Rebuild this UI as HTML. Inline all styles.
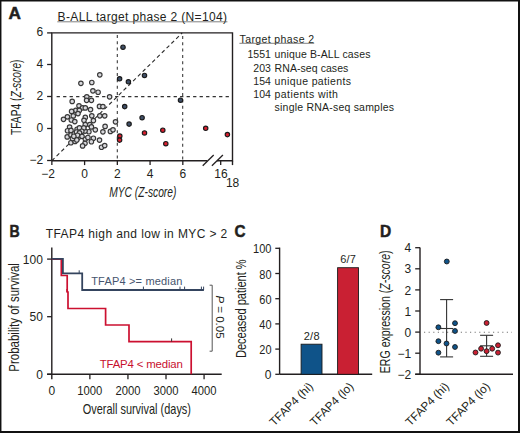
<!DOCTYPE html>
<html><head><meta charset="utf-8"><style>
html,body{margin:0;padding:0;background:#fff;}
body{width:520px;height:433px;overflow:hidden;}
svg{display:block;font-family:"Liberation Sans", sans-serif;}
</style></head><body>
<svg width="520" height="433" viewBox="0 0 520 433">
<rect x="0" y="0" width="520" height="433" fill="#fff"/>
<text x="8.6" y="18.8" font-size="16" text-anchor="start" fill="#231f20" font-weight="bold" font-style="normal" textLength="12.4" lengthAdjust="spacingAndGlyphs" stroke="#231f20" stroke-width="0.5">A</text>
<text x="57.6" y="20.9" font-size="12" text-anchor="start" fill="#231f20" font-weight="normal" font-style="normal" textLength="169.4" lengthAdjust="spacing" >B-ALL target phase 2 (N=104)</text>
<line x1="57.3" y1="21.8" x2="227.4" y2="21.8" stroke="#555" stroke-width="0.75" />
<line x1="117.3" y1="34.9" x2="117.3" y2="159.8" stroke="#333" stroke-width="1.05" stroke-dasharray="3,3.35"/>
<line x1="182.7" y1="35.9" x2="182.7" y2="159.8" stroke="#333" stroke-width="1.05" stroke-dasharray="3,3.35"/>
<line x1="56.599999999999994" y1="96.6" x2="230.5" y2="96.6" stroke="#333" stroke-width="1.05" stroke-dasharray="3.3,3.2"/>
<line x1="51.8" y1="160.8" x2="182.2" y2="32.9" stroke="#2a2a2a" stroke-width="1.1" stroke-dasharray="3.8,2.9"/>
<path d="M51.8,160.8 L51.8,32.9 L232.5,32.9 L232.5,160.8 L217,160.8 M207.3,160.8 L51.8,160.8" fill="none" stroke="#231f20" stroke-width="1.4"/>
<line x1="47.1" y1="32.9" x2="51.8" y2="32.9" stroke="#231f20" stroke-width="1.3" />
<text x="43.2" y="36.1" font-size="12" text-anchor="end" fill="#231f20" font-weight="normal" font-style="normal" >6</text>
<line x1="47.1" y1="64.5" x2="51.8" y2="64.5" stroke="#231f20" stroke-width="1.3" />
<text x="43.2" y="68.1" font-size="12" text-anchor="end" fill="#231f20" font-weight="normal" font-style="normal" >4</text>
<line x1="47.1" y1="96.5" x2="51.8" y2="96.5" stroke="#231f20" stroke-width="1.3" />
<text x="43.2" y="100.1" font-size="12" text-anchor="end" fill="#231f20" font-weight="normal" font-style="normal" >2</text>
<line x1="47.1" y1="128.5" x2="51.8" y2="128.5" stroke="#231f20" stroke-width="1.3" />
<text x="43.2" y="132.1" font-size="12" text-anchor="end" fill="#231f20" font-weight="normal" font-style="normal" >0</text>
<line x1="47.1" y1="160.5" x2="51.8" y2="160.5" stroke="#231f20" stroke-width="1.3" />
<text x="43.2" y="164.1" font-size="12" text-anchor="end" fill="#231f20" font-weight="normal" font-style="normal" >−2</text>
<line x1="51.85999999999999" y1="160.8" x2="51.85999999999999" y2="165.10000000000002" stroke="#231f20" stroke-width="1.3" />
<text x="54.959999999999994" y="177.9" font-size="12" text-anchor="end" fill="#231f20" font-weight="normal" font-style="normal" >−2</text>
<line x1="84.6" y1="160.8" x2="84.6" y2="165.10000000000002" stroke="#231f20" stroke-width="1.3" />
<text x="84.6" y="177.9" font-size="12" text-anchor="middle" fill="#231f20" font-weight="normal" font-style="normal" >0</text>
<line x1="117.34" y1="160.8" x2="117.34" y2="165.10000000000002" stroke="#231f20" stroke-width="1.3" />
<text x="117.34" y="177.9" font-size="12" text-anchor="middle" fill="#231f20" font-weight="normal" font-style="normal" >2</text>
<line x1="150.07999999999998" y1="160.8" x2="150.07999999999998" y2="165.10000000000002" stroke="#231f20" stroke-width="1.3" />
<text x="150.07999999999998" y="177.9" font-size="12" text-anchor="middle" fill="#231f20" font-weight="normal" font-style="normal" >4</text>
<line x1="182.82" y1="160.8" x2="182.82" y2="165.10000000000002" stroke="#231f20" stroke-width="1.3" />
<text x="182.82" y="177.9" font-size="12" text-anchor="middle" fill="#231f20" font-weight="normal" font-style="normal" >6</text>
<line x1="220.7" y1="160.8" x2="220.7" y2="165.10000000000002" stroke="#231f20" stroke-width="1.3" />
<line x1="232.5" y1="160.8" x2="232.5" y2="165.10000000000002" stroke="#231f20" stroke-width="1.4" />
<text x="220.9" y="177.9" font-size="12" text-anchor="middle" fill="#231f20" font-weight="normal" font-style="normal" >16</text>
<text x="232.6" y="187.4" font-size="12" text-anchor="middle" fill="#231f20" font-weight="normal" font-style="normal" >18</text>
<line x1="202.7" y1="165.8" x2="213.7" y2="155" stroke="#231f20" stroke-width="1.3" />
<line x1="211.9" y1="165.8" x2="222.9" y2="155" stroke="#231f20" stroke-width="1.3" />
<text transform="translate(21,97.3) rotate(-90)" font-size="14.6" text-anchor="middle" fill="#231f20" textLength="75.6" lengthAdjust="spacingAndGlyphs">TFAP4 (<tspan font-style="italic">Z-score</tspan>)</text>
<text x="109.2" y="196.9" font-size="14.3" text-anchor="start" fill="#231f20" font-weight="normal" font-style="italic" textLength="67.2" lengthAdjust="spacingAndGlyphs" >MYC (Z-score)</text>
<circle cx="99.8" cy="74.8" r="2.25" fill="#d8d8dc" stroke="#383838" stroke-width="1.15"/>
<circle cx="80.9" cy="83.3" r="2.25" fill="#d8d8dc" stroke="#383838" stroke-width="1.15"/>
<circle cx="91.8" cy="82.5" r="2.25" fill="#d8d8dc" stroke="#383838" stroke-width="1.15"/>
<circle cx="92.9" cy="90.8" r="2.25" fill="#d8d8dc" stroke="#383838" stroke-width="1.15"/>
<circle cx="98.1" cy="92.2" r="2.25" fill="#d8d8dc" stroke="#383838" stroke-width="1.15"/>
<circle cx="86.8" cy="96.8" r="2.25" fill="#d8d8dc" stroke="#383838" stroke-width="1.15"/>
<circle cx="86.6" cy="100.3" r="2.25" fill="#d8d8dc" stroke="#383838" stroke-width="1.15"/>
<circle cx="91.4" cy="100.3" r="2.25" fill="#d8d8dc" stroke="#383838" stroke-width="1.15"/>
<circle cx="72.2" cy="101.4" r="2.25" fill="#d8d8dc" stroke="#383838" stroke-width="1.15"/>
<circle cx="109.6" cy="96.8" r="2.25" fill="#d8d8dc" stroke="#383838" stroke-width="1.15"/>
<circle cx="79" cy="105.8" r="2.25" fill="#d8d8dc" stroke="#383838" stroke-width="1.15"/>
<circle cx="82.5" cy="107.8" r="2.25" fill="#d8d8dc" stroke="#383838" stroke-width="1.15"/>
<circle cx="85.3" cy="107.9" r="2.25" fill="#d8d8dc" stroke="#383838" stroke-width="1.15"/>
<circle cx="90.5" cy="109.6" r="2.25" fill="#d8d8dc" stroke="#383838" stroke-width="1.15"/>
<circle cx="99.5" cy="106.4" r="2.25" fill="#d8d8dc" stroke="#383838" stroke-width="1.15"/>
<circle cx="102.9" cy="106.6" r="2.25" fill="#d8d8dc" stroke="#383838" stroke-width="1.15"/>
<circle cx="75.8" cy="110.3" r="2.25" fill="#d8d8dc" stroke="#383838" stroke-width="1.15"/>
<circle cx="79.3" cy="110.4" r="2.25" fill="#d8d8dc" stroke="#383838" stroke-width="1.15"/>
<circle cx="71.6" cy="111.4" r="2.25" fill="#d8d8dc" stroke="#383838" stroke-width="1.15"/>
<circle cx="78" cy="113.6" r="2.25" fill="#d8d8dc" stroke="#383838" stroke-width="1.15"/>
<circle cx="73.3" cy="115.9" r="2.25" fill="#d8d8dc" stroke="#383838" stroke-width="1.15"/>
<circle cx="67.4" cy="116.8" r="2.25" fill="#d8d8dc" stroke="#383838" stroke-width="1.15"/>
<circle cx="63.5" cy="119.3" r="2.25" fill="#d8d8dc" stroke="#383838" stroke-width="1.15"/>
<circle cx="71.3" cy="120" r="2.25" fill="#d8d8dc" stroke="#383838" stroke-width="1.15"/>
<circle cx="74.8" cy="121.6" r="2.25" fill="#d8d8dc" stroke="#383838" stroke-width="1.15"/>
<circle cx="85.3" cy="117.4" r="2.25" fill="#d8d8dc" stroke="#383838" stroke-width="1.15"/>
<circle cx="84" cy="120.3" r="2.25" fill="#d8d8dc" stroke="#383838" stroke-width="1.15"/>
<circle cx="91.8" cy="115.8" r="2.25" fill="#d8d8dc" stroke="#383838" stroke-width="1.15"/>
<circle cx="99.8" cy="115.8" r="2.25" fill="#d8d8dc" stroke="#383838" stroke-width="1.15"/>
<circle cx="104.7" cy="115.8" r="2.25" fill="#d8d8dc" stroke="#383838" stroke-width="1.15"/>
<circle cx="93.4" cy="120.6" r="2.25" fill="#d8d8dc" stroke="#383838" stroke-width="1.15"/>
<circle cx="115.5" cy="121.8" r="2.25" fill="#d8d8dc" stroke="#383838" stroke-width="1.15"/>
<circle cx="85.3" cy="124.6" r="2.25" fill="#d8d8dc" stroke="#383838" stroke-width="1.15"/>
<circle cx="89.8" cy="124.6" r="2.25" fill="#d8d8dc" stroke="#383838" stroke-width="1.15"/>
<circle cx="91.4" cy="126.9" r="2.25" fill="#d8d8dc" stroke="#383838" stroke-width="1.15"/>
<circle cx="95.3" cy="129.8" r="2.25" fill="#d8d8dc" stroke="#383838" stroke-width="1.15"/>
<circle cx="88.9" cy="131.7" r="2.25" fill="#d8d8dc" stroke="#383838" stroke-width="1.15"/>
<circle cx="85" cy="131.1" r="2.25" fill="#d8d8dc" stroke="#383838" stroke-width="1.15"/>
<circle cx="105.1" cy="126.4" r="2.25" fill="#d8d8dc" stroke="#383838" stroke-width="1.15"/>
<circle cx="102.9" cy="131.8" r="2.25" fill="#d8d8dc" stroke="#383838" stroke-width="1.15"/>
<circle cx="110.4" cy="131.4" r="2.25" fill="#d8d8dc" stroke="#383838" stroke-width="1.15"/>
<circle cx="113" cy="129.8" r="2.25" fill="#d8d8dc" stroke="#383838" stroke-width="1.15"/>
<circle cx="69.6" cy="127.1" r="2.25" fill="#d8d8dc" stroke="#383838" stroke-width="1.15"/>
<circle cx="67.5" cy="130.7" r="2.25" fill="#d8d8dc" stroke="#383838" stroke-width="1.15"/>
<circle cx="71" cy="130.4" r="2.25" fill="#d8d8dc" stroke="#383838" stroke-width="1.15"/>
<circle cx="77.1" cy="129.2" r="2.25" fill="#d8d8dc" stroke="#383838" stroke-width="1.15"/>
<circle cx="79.4" cy="127.9" r="2.25" fill="#d8d8dc" stroke="#383838" stroke-width="1.15"/>
<circle cx="83.8" cy="127.9" r="2.25" fill="#d8d8dc" stroke="#383838" stroke-width="1.15"/>
<circle cx="67.2" cy="136.9" r="2.25" fill="#d8d8dc" stroke="#383838" stroke-width="1.15"/>
<circle cx="71" cy="134.9" r="2.25" fill="#d8d8dc" stroke="#383838" stroke-width="1.15"/>
<circle cx="74.3" cy="133.7" r="2.25" fill="#d8d8dc" stroke="#383838" stroke-width="1.15"/>
<circle cx="78.1" cy="137.8" r="2.25" fill="#d8d8dc" stroke="#383838" stroke-width="1.15"/>
<circle cx="80.6" cy="134.8" r="2.25" fill="#d8d8dc" stroke="#383838" stroke-width="1.15"/>
<circle cx="85.3" cy="139.1" r="2.25" fill="#d8d8dc" stroke="#383838" stroke-width="1.15"/>
<circle cx="87.9" cy="137.5" r="2.25" fill="#d8d8dc" stroke="#383838" stroke-width="1.15"/>
<circle cx="93.4" cy="138.2" r="2.25" fill="#d8d8dc" stroke="#383838" stroke-width="1.15"/>
<circle cx="91.4" cy="141.7" r="2.25" fill="#d8d8dc" stroke="#383838" stroke-width="1.15"/>
<circle cx="85" cy="143.3" r="2.25" fill="#d8d8dc" stroke="#383838" stroke-width="1.15"/>
<circle cx="70.9" cy="142.7" r="2.25" fill="#d8d8dc" stroke="#383838" stroke-width="1.15"/>
<circle cx="75.1" cy="141.4" r="2.25" fill="#d8d8dc" stroke="#383838" stroke-width="1.15"/>
<circle cx="82.6" cy="145.9" r="2.25" fill="#d8d8dc" stroke="#383838" stroke-width="1.15"/>
<circle cx="74.2" cy="138.2" r="2.25" fill="#d8d8dc" stroke="#383838" stroke-width="1.15"/>
<circle cx="99.5" cy="140.1" r="2.25" fill="#d8d8dc" stroke="#383838" stroke-width="1.15"/>
<circle cx="101.5" cy="147.2" r="2.25" fill="#d8d8dc" stroke="#383838" stroke-width="1.15"/>
<circle cx="104.7" cy="145.6" r="2.25" fill="#d8d8dc" stroke="#383838" stroke-width="1.15"/>
<circle cx="76.5" cy="132" r="2.25" fill="#d8d8dc" stroke="#383838" stroke-width="1.15"/>
<circle cx="81.8" cy="131.2" r="2.25" fill="#d8d8dc" stroke="#383838" stroke-width="1.15"/>
<circle cx="72.5" cy="138.5" r="2.25" fill="#d8d8dc" stroke="#383838" stroke-width="1.15"/>
<circle cx="79.5" cy="132.8" r="2.25" fill="#d8d8dc" stroke="#383838" stroke-width="1.15"/>
<circle cx="77.5" cy="135.2" r="2.25" fill="#d8d8dc" stroke="#383838" stroke-width="1.15"/>
<circle cx="82" cy="136.3" r="2.25" fill="#d8d8dc" stroke="#383838" stroke-width="1.15"/>
<circle cx="73.8" cy="136.2" r="2.25" fill="#d8d8dc" stroke="#383838" stroke-width="1.15"/>
<circle cx="76.8" cy="140" r="2.25" fill="#d8d8dc" stroke="#383838" stroke-width="1.15"/>
<circle cx="123" cy="47.2" r="2.2" fill="#3f4f67" stroke="#1a1a1a" stroke-width="1.15"/>
<circle cx="119.6" cy="78.8" r="2.2" fill="#3f4f67" stroke="#1a1a1a" stroke-width="1.15"/>
<circle cx="128.4" cy="81.8" r="2.2" fill="#3f4f67" stroke="#1a1a1a" stroke-width="1.15"/>
<circle cx="144.5" cy="75.4" r="2.2" fill="#3f4f67" stroke="#1a1a1a" stroke-width="1.15"/>
<circle cx="124.7" cy="106.6" r="2.2" fill="#3f4f67" stroke="#1a1a1a" stroke-width="1.15"/>
<circle cx="142.1" cy="117.7" r="2.2" fill="#3f4f67" stroke="#1a1a1a" stroke-width="1.15"/>
<circle cx="129.1" cy="124.1" r="2.2" fill="#3f4f67" stroke="#1a1a1a" stroke-width="1.15"/>
<circle cx="180.5" cy="100.2" r="2.2" fill="#3f4f67" stroke="#1a1a1a" stroke-width="1.15"/>
<circle cx="119.8" cy="136.1" r="2.2" fill="#d91e2e" stroke="#1a1a1a" stroke-width="1.15"/>
<circle cx="119.6" cy="140.1" r="2.2" fill="#d91e2e" stroke="#1a1a1a" stroke-width="1.15"/>
<circle cx="144.5" cy="132.9" r="2.2" fill="#d91e2e" stroke="#1a1a1a" stroke-width="1.15"/>
<circle cx="162.8" cy="130.2" r="2.2" fill="#d91e2e" stroke="#1a1a1a" stroke-width="1.15"/>
<circle cx="165.8" cy="143.7" r="2.2" fill="#d91e2e" stroke="#1a1a1a" stroke-width="1.15"/>
<circle cx="205.7" cy="128.3" r="2.2" fill="#d91e2e" stroke="#1a1a1a" stroke-width="1.15"/>
<circle cx="227.4" cy="134.6" r="2.2" fill="#d91e2e" stroke="#1a1a1a" stroke-width="1.15"/>
<text x="239.6" y="42.6" font-size="10.5" text-anchor="start" fill="#231f20" font-weight="normal" font-style="normal" textLength="74.4" lengthAdjust="spacing" >Target phase 2</text>
<line x1="239.4" y1="43.3" x2="314.2" y2="43.3" stroke="#555" stroke-width="0.75" />
<text x="270.9" y="58.2" font-size="10.5" text-anchor="end" fill="#231f20" font-weight="normal" font-style="normal" >1551</text>
<text x="274.6" y="58.2" font-size="10.5" text-anchor="start" fill="#231f20" font-weight="normal" font-style="normal" textLength="95.8" lengthAdjust="spacing" >unique B-ALL cases</text>
<text x="270.9" y="71.5" font-size="10.5" text-anchor="end" fill="#231f20" font-weight="normal" font-style="normal" >203</text>
<text x="274.6" y="71.5" font-size="10.5" text-anchor="start" fill="#231f20" font-weight="normal" font-style="normal" textLength="73.7" lengthAdjust="spacing" >RNA-seq cases</text>
<text x="270.9" y="84.7" font-size="10.5" text-anchor="end" fill="#231f20" font-weight="normal" font-style="normal" >154</text>
<text x="274.6" y="84.7" font-size="10.5" text-anchor="start" fill="#231f20" font-weight="normal" font-style="normal" textLength="76.4" lengthAdjust="spacing" >unique patients</text>
<text x="270.9" y="98.0" font-size="10.5" text-anchor="end" fill="#231f20" font-weight="normal" font-style="normal" >104</text>
<text x="274.6" y="98.0" font-size="10.5" text-anchor="start" fill="#231f20" font-weight="normal" font-style="normal" textLength="63.2" lengthAdjust="spacing" >patients with</text>
<text x="274.6" y="111.3" font-size="10.5" text-anchor="start" fill="#231f20" font-weight="normal" font-style="normal" textLength="119.4" lengthAdjust="spacing" >single RNA-seq samples</text>
<text x="9.6" y="237.3" font-size="16" text-anchor="start" fill="#231f20" font-weight="bold" font-style="normal" textLength="10.2" lengthAdjust="spacingAndGlyphs" stroke="#231f20" stroke-width="0.5">B</text>
<text x="45.8" y="237.6" font-size="12" text-anchor="start" fill="#231f20" font-weight="normal" font-style="normal" textLength="181.5" lengthAdjust="spacing" >TFAP4 high and low in MYC &gt; 2</text>
<line x1="51.8" y1="247.5" x2="51.8" y2="379.3" stroke="#231f20" stroke-width="1.4" />
<line x1="47.1" y1="374.3" x2="221.7" y2="374.3" stroke="#231f20" stroke-width="1.4" />
<line x1="47.1" y1="259.1" x2="51.8" y2="259.1" stroke="#231f20" stroke-width="1.3" />
<text x="42.9" y="263.8" font-size="12" text-anchor="end" fill="#231f20" font-weight="normal" font-style="normal" >100</text>
<line x1="47.1" y1="316.70000000000005" x2="51.8" y2="316.70000000000005" stroke="#231f20" stroke-width="1.3" />
<text x="42.9" y="321.40000000000003" font-size="12" text-anchor="end" fill="#231f20" font-weight="normal" font-style="normal" >50</text>
<line x1="47.1" y1="374.3" x2="51.8" y2="374.3" stroke="#231f20" stroke-width="1.3" />
<text x="42.9" y="379.0" font-size="12" text-anchor="end" fill="#231f20" font-weight="normal" font-style="normal" >0</text>
<line x1="89.87" y1="374.3" x2="89.87" y2="379.3" stroke="#231f20" stroke-width="1.3" />
<line x1="127.94" y1="374.3" x2="127.94" y2="379.3" stroke="#231f20" stroke-width="1.3" />
<line x1="166.01" y1="374.3" x2="166.01" y2="379.3" stroke="#231f20" stroke-width="1.3" />
<line x1="204.07999999999998" y1="374.3" x2="204.07999999999998" y2="379.3" stroke="#231f20" stroke-width="1.3" />
<text x="51.8" y="394.7" font-size="12" text-anchor="middle" fill="#231f20" font-weight="normal" font-style="normal" >0</text>
<text x="89.87" y="394.7" font-size="12" text-anchor="middle" fill="#231f20" font-weight="normal" font-style="normal" textLength="25" lengthAdjust="spacingAndGlyphs" >1000</text>
<text x="127.94" y="394.7" font-size="12" text-anchor="middle" fill="#231f20" font-weight="normal" font-style="normal" textLength="25" lengthAdjust="spacingAndGlyphs" >2000</text>
<text x="166.01" y="394.7" font-size="12" text-anchor="middle" fill="#231f20" font-weight="normal" font-style="normal" textLength="25" lengthAdjust="spacingAndGlyphs" >3000</text>
<text x="204.07999999999998" y="394.7" font-size="12" text-anchor="middle" fill="#231f20" font-weight="normal" font-style="normal" textLength="25" lengthAdjust="spacingAndGlyphs" >4000</text>
<text transform="translate(18.6,317.4) rotate(-90)" font-size="14.5" text-anchor="middle" fill="#231f20" textLength="108.6" lengthAdjust="spacingAndGlyphs">Probability of survival</text>
<text x="82.7" y="413.7" font-size="14.2" text-anchor="start" fill="#231f20" font-weight="normal" font-style="normal" textLength="108.3" lengthAdjust="spacingAndGlyphs" >Overall survival (days)</text>
<path d="M51.8,259.1 L61.3,259.1 L61.3,275.5 L67.2,275.5 L67.2,292 L68,292 L68,308.5 L105.6,308.5 L105.6,325 L129,325 L129,341.6 L191.2,341.6 L191.2,374.3" fill="none" stroke="#cc1030" stroke-width="1.7"/>
<line x1="171.6" y1="341.6" x2="171.6" y2="338.4" stroke="#333" stroke-width="1.0" />
<line x1="66.8" y1="292" x2="66.8" y2="289" stroke="#c8102e" stroke-width="1.0" />
<path d="M51.8,258.9 L62.9,258.9 L62.9,273.3 L82.2,273.3 L82.2,290 L203.9,290" fill="none" stroke="#34445e" stroke-width="1.8"/>
<line x1="79.2" y1="273.3" x2="79.2" y2="270.3" stroke="#34445e" stroke-width="1.0" />
<line x1="143.4" y1="290" x2="143.4" y2="286.6" stroke="#34445e" stroke-width="1.0" />
<line x1="180" y1="290" x2="180" y2="286.6" stroke="#34445e" stroke-width="1.0" />
<line x1="184.6" y1="290" x2="184.6" y2="286.6" stroke="#34445e" stroke-width="1.0" />
<line x1="201.4" y1="290" x2="201.4" y2="286.6" stroke="#34445e" stroke-width="1.0" />
<line x1="203.6" y1="290" x2="203.6" y2="286.6" stroke="#34445e" stroke-width="1.0" />
<text x="91.2" y="284.9" font-size="11" text-anchor="start" fill="#45546e" font-weight="normal" font-style="normal" textLength="91.2" lengthAdjust="spacing" >TFAP4 &gt;= median</text>
<text x="99.7" y="368.3" font-size="11.4" text-anchor="start" fill="#c8102e" font-weight="normal" font-style="normal" textLength="83.1" lengthAdjust="spacing" >TFAP4 &lt; median</text>
<path d="M209.6,285.2 L212.2,285.2 L212.2,351.2 L209.6,351.2" fill="none" stroke="#555" stroke-width="1"/>
<text transform="translate(215.8,317) rotate(90)" font-size="11.5" text-anchor="middle" fill="#231f20"><tspan font-style="italic">P</tspan> = 0.05</text>
<text x="234.6" y="237.1" font-size="16" text-anchor="start" fill="#231f20" font-weight="bold" font-style="normal" textLength="11" lengthAdjust="spacingAndGlyphs" stroke="#231f20" stroke-width="0.5">C</text>
<line x1="279.6" y1="247.6" x2="279.6" y2="374.3" stroke="#231f20" stroke-width="1.4" />
<line x1="279.6" y1="374.3" x2="372.2" y2="374.3" stroke="#231f20" stroke-width="1.4" />
<line x1="275.3" y1="374.3" x2="279.6" y2="374.3" stroke="#231f20" stroke-width="1.3" />
<text x="271.5" y="379.3" font-size="12" text-anchor="end" fill="#231f20" font-weight="normal" font-style="normal" >0</text>
<line x1="275.3" y1="349.1" x2="279.6" y2="349.1" stroke="#231f20" stroke-width="1.3" />
<text x="271.5" y="354.1" font-size="12" text-anchor="end" fill="#231f20" font-weight="normal" font-style="normal" textLength="12.2" lengthAdjust="spacingAndGlyphs" >20</text>
<line x1="275.3" y1="323.90000000000003" x2="279.6" y2="323.90000000000003" stroke="#231f20" stroke-width="1.3" />
<text x="271.5" y="328.90000000000003" font-size="12" text-anchor="end" fill="#231f20" font-weight="normal" font-style="normal" textLength="12.2" lengthAdjust="spacingAndGlyphs" >40</text>
<line x1="275.3" y1="298.70000000000005" x2="279.6" y2="298.70000000000005" stroke="#231f20" stroke-width="1.3" />
<text x="271.5" y="303.70000000000005" font-size="12" text-anchor="end" fill="#231f20" font-weight="normal" font-style="normal" textLength="12.2" lengthAdjust="spacingAndGlyphs" >60</text>
<line x1="275.3" y1="273.5" x2="279.6" y2="273.5" stroke="#231f20" stroke-width="1.3" />
<text x="271.5" y="278.5" font-size="12" text-anchor="end" fill="#231f20" font-weight="normal" font-style="normal" textLength="12.2" lengthAdjust="spacingAndGlyphs" >80</text>
<line x1="275.3" y1="248.3" x2="279.6" y2="248.3" stroke="#231f20" stroke-width="1.3" />
<text x="271.5" y="253.3" font-size="12" text-anchor="end" fill="#231f20" font-weight="normal" font-style="normal" textLength="18.4" lengthAdjust="spacingAndGlyphs" >100</text>
<rect x="301.1" y="344.2" width="20.9" height="30.1" fill="#0f5389" stroke="#1a1a1a" stroke-width="0.9"/>
<rect x="337.6" y="267.7054" width="20.9" height="106.59459999999999" fill="#c92033" stroke="#1a1a1a" stroke-width="0.9"/>
<text x="311.6" y="339.6" font-size="11" text-anchor="middle" fill="#231f20" font-weight="normal" font-style="normal" textLength="15.9" lengthAdjust="spacing" >2/8</text>
<text x="348" y="263.4" font-size="11" text-anchor="middle" fill="#231f20" font-weight="normal" font-style="normal" textLength="15.6" lengthAdjust="spacing" >6/7</text>
<text transform="translate(246.4,308.7) rotate(-90)" font-size="14.4" text-anchor="middle" fill="#231f20" textLength="98.7" lengthAdjust="spacingAndGlyphs">Deceased patient %</text>
<text transform="translate(313.8,387.2) rotate(-45)" font-size="11.7" text-anchor="end" fill="#231f20">TFAP4 (hi)</text>
<text transform="translate(354.2,387.2) rotate(-45)" font-size="11.7" text-anchor="end" fill="#231f20">TFAP4 (lo)</text>
<text x="379.9" y="236.5" font-size="16" text-anchor="start" fill="#231f20" font-weight="bold" font-style="normal" textLength="11.2" lengthAdjust="spacingAndGlyphs" stroke="#231f20" stroke-width="0.5">D</text>
<line x1="420" y1="247.4" x2="420" y2="374.2" stroke="#231f20" stroke-width="1.4" />
<line x1="415.2" y1="374.2" x2="513" y2="374.2" stroke="#231f20" stroke-width="1.4" />
<line x1="415.2" y1="247.70000000000002" x2="420" y2="247.70000000000002" stroke="#231f20" stroke-width="1.3" />
<text x="411.1" y="252.3" font-size="12" text-anchor="end" fill="#231f20" font-weight="normal" font-style="normal" >4</text>
<line x1="415.2" y1="268.8" x2="420" y2="268.8" stroke="#231f20" stroke-width="1.3" />
<text x="411.1" y="273.40000000000003" font-size="12" text-anchor="end" fill="#231f20" font-weight="normal" font-style="normal" >3</text>
<line x1="415.2" y1="289.90000000000003" x2="420" y2="289.90000000000003" stroke="#231f20" stroke-width="1.3" />
<text x="411.1" y="294.50000000000006" font-size="12" text-anchor="end" fill="#231f20" font-weight="normal" font-style="normal" >2</text>
<line x1="415.2" y1="311.0" x2="420" y2="311.0" stroke="#231f20" stroke-width="1.3" />
<text x="411.1" y="315.6" font-size="12" text-anchor="end" fill="#231f20" font-weight="normal" font-style="normal" >1</text>
<line x1="415.2" y1="332.1" x2="420" y2="332.1" stroke="#231f20" stroke-width="1.3" />
<text x="411.1" y="336.70000000000005" font-size="12" text-anchor="end" fill="#231f20" font-weight="normal" font-style="normal" >0</text>
<line x1="415.2" y1="353.20000000000005" x2="420" y2="353.20000000000005" stroke="#231f20" stroke-width="1.3" />
<text x="411.1" y="357.80000000000007" font-size="12" text-anchor="end" fill="#231f20" font-weight="normal" font-style="normal" >−1</text>
<line x1="415.2" y1="374.3" x2="420" y2="374.3" stroke="#231f20" stroke-width="1.3" />
<text x="411.1" y="378.90000000000003" font-size="12" text-anchor="end" fill="#231f20" font-weight="normal" font-style="normal" >−2</text>
<line x1="424" y1="332.3" x2="512" y2="332.3" stroke="#777" stroke-width="1.1" stroke-dasharray="1.2,3.4"/>
<text transform="translate(390.4,311.8) rotate(-90)" font-size="13.8" text-anchor="middle" fill="#231f20" textLength="122.8" lengthAdjust="spacingAndGlyphs">ERG expression (<tspan font-style="italic">Z-score</tspan>)</text>
<line x1="446.6" y1="299.6" x2="446.6" y2="356.9" stroke="#333" stroke-width="1.1" />
<line x1="440.1" y1="299.6" x2="453.1" y2="299.6" stroke="#333" stroke-width="1.1" />
<line x1="440.1" y1="328.5" x2="453.1" y2="328.5" stroke="#333" stroke-width="1.1" />
<line x1="440.1" y1="356.9" x2="453.1" y2="356.9" stroke="#333" stroke-width="1.1" />
<line x1="486.6" y1="335.3" x2="486.6" y2="356.3" stroke="#333" stroke-width="1.1" />
<line x1="480.1" y1="335.3" x2="493.1" y2="335.3" stroke="#333" stroke-width="1.1" />
<line x1="480.1" y1="345.8" x2="493.1" y2="345.8" stroke="#333" stroke-width="1.1" />
<line x1="480.1" y1="356.3" x2="493.1" y2="356.3" stroke="#333" stroke-width="1.1" />
<circle cx="446.8" cy="261.5" r="2.45" fill="#0f5389" stroke="#1a1a1a" stroke-width="0.9"/>
<circle cx="438.4" cy="327.3" r="2.45" fill="#0f5389" stroke="#1a1a1a" stroke-width="0.9"/>
<circle cx="455" cy="323.2" r="2.45" fill="#0f5389" stroke="#1a1a1a" stroke-width="0.9"/>
<circle cx="455" cy="331" r="2.45" fill="#0f5389" stroke="#1a1a1a" stroke-width="0.9"/>
<circle cx="438.4" cy="341.2" r="2.45" fill="#0f5389" stroke="#1a1a1a" stroke-width="0.9"/>
<circle cx="446.5" cy="343.5" r="2.45" fill="#0f5389" stroke="#1a1a1a" stroke-width="0.9"/>
<circle cx="455" cy="347" r="2.45" fill="#0f5389" stroke="#1a1a1a" stroke-width="0.9"/>
<circle cx="438.4" cy="352.7" r="2.45" fill="#0f5389" stroke="#1a1a1a" stroke-width="0.9"/>
<circle cx="486.6" cy="323" r="2.45" fill="#c92033" stroke="#1a1a1a" stroke-width="0.9"/>
<circle cx="475.5" cy="352.5" r="2.45" fill="#c92033" stroke="#1a1a1a" stroke-width="0.9"/>
<circle cx="481.1" cy="348.7" r="2.45" fill="#c92033" stroke="#1a1a1a" stroke-width="0.9"/>
<circle cx="486.6" cy="351.2" r="2.45" fill="#c92033" stroke="#1a1a1a" stroke-width="0.9"/>
<circle cx="492.2" cy="348.7" r="2.45" fill="#c92033" stroke="#1a1a1a" stroke-width="0.9"/>
<circle cx="498" cy="345.3" r="2.45" fill="#c92033" stroke="#1a1a1a" stroke-width="0.9"/>
<circle cx="498" cy="352.6" r="2.45" fill="#c92033" stroke="#1a1a1a" stroke-width="0.9"/>
<text transform="translate(449.8,387.2) rotate(-45)" font-size="11.7" text-anchor="end" fill="#231f20">TFAP4 (hi)</text>
<text transform="translate(490.7,387.2) rotate(-45)" font-size="11.7" text-anchor="end" fill="#231f20">TFAP4 (lo)</text>
<path d="M0.7,433 L0.7,0.7 L520,0.7" fill="none" stroke="#111" stroke-width="1.5"/>
<path d="M519,0 L519,432 L0,432" fill="none" stroke="#111" stroke-width="2"/>
</svg>
</body></html>
